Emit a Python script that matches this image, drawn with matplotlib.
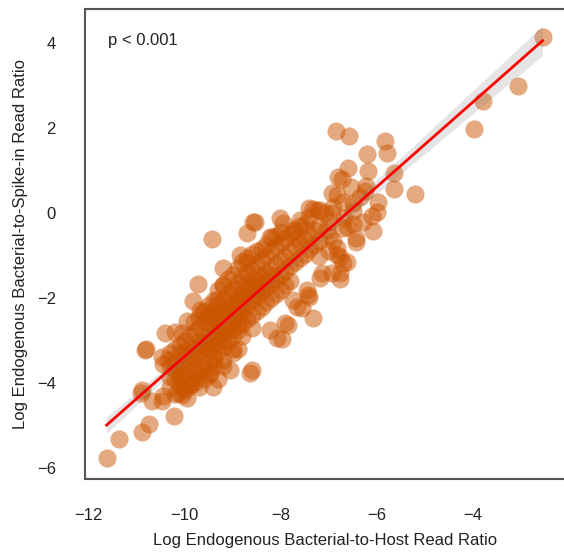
import matplotlib.pyplot as plt
import numpy as np

# log read ratios per sample: x = bacterial-to-host, y = bacterial-to-spike-in
host_outer = [-2.54, -3.06, -3.79, -3.96, -6.85, -6.58, -5.83, -5.79, -6.21, -6.60,
              -6.19, -6.81, -6.73, -5.63, -5.63, -5.19, -6.54, -6.23, -6.92, -6.83,
              -6.25, -5.98, -6.00, -6.10, -6.35, -6.50, -7.33, -7.19, -6.92, -6.62,
              -6.29, -6.08, -6.42, -6.67, -8.02, -7.96, -8.54, -8.71, -9.44, -8.23,
              -7.75, -7.60, -7.40, -7.67, -7.04, -6.83, -7.08, -9.73, -9.83, -9.63,
              -9.96, -10.42, -10.21, -10.81, -10.48, -10.35, -7.33, -7.98, -7.92, -6.77,
              -6.71, -6.83, -6.42, -7.13, -7.46, -7.67, -9.21, -8.85, -8.71, -9.21,
              -9.33, -9.69, -8.60, -10.06, -10.83, -8.65, -9.42, -9.90, -10.15, -10.90,
              -10.46, -8.08, -8.23, -7.85, -7.56, -7.44, -6.77, -10.92, -10.69, -10.48,
              -10.23, -10.75, -10.90, -11.38, -11.63, -10.06, -9.96, -9.75, -10.10, -9.06,
              -9.48, -10.46, -7.40, -7.25, -8.58, -8.19, -6.77, -6.62, -6.94, -7.19,
              -7.40, -7.75, -9.60, -9.40, -9.20, -9.00, -9.30, -8.90, -8.80, -8.60,
              -9.70, -10.00]
spike_outer = [4.14, 3.00, 2.64, 1.98, 1.93, 1.82, 1.70, 1.42, 1.39, 1.07,
               0.98, 0.85, 0.80, 0.95, 0.57, 0.46, 0.62, 0.64, 0.48, 0.43,
               0.53, 0.26, 0.03, -0.06, 0.39, 0.24, 0.10, 0.08, 0.01, -0.32,
               -0.20, -0.42, -0.58, -0.11, -0.11, -0.23, -0.20, -0.47, -0.61, -0.56,
               -0.40, -0.16, -0.09, -0.58, -0.40, -0.81, 0.01, -1.66, -2.06, -2.34,
               -2.53, -2.81, -2.79, -3.19, -3.38, -3.45, -2.46, -2.95, -2.58, -1.40,
               -1.17, -0.98, -0.68, -1.40, -1.81, -2.20, -1.29, -0.98, -1.15, -1.68,
               -2.04, -2.27, -3.68, -2.81, -3.22, -3.76, -4.08, -4.04, -4.22, -4.15,
               -4.31, -2.93, -2.74, -2.63, -2.22, -1.92, -1.56, -4.22, -4.42, -4.42,
               -4.76, -4.95, -5.14, -5.31, -5.75, -4.27, -4.34, -3.76, -3.85, -3.68,
               -3.76, -3.54, 0.12, 0.08, -0.20, -0.56, -1.03, -1.15, -1.40, -1.52,
               -1.97, -2.04, -3.90, -3.50, -3.60, -3.30, -3.90, -3.20, -2.90, -2.70,
               -4.10, -4.10]

host_core = ([-10.3] * 4 + [-10.2] * 5 + [-10.1] * 5 + [-10.0] * 6 + [-9.9] * 6
             + [-9.8] * 6 + [-9.7] * 7 + [-9.6] * 7 + [-9.5] * 8 + [-9.4] * 8
             + [-9.3] * 8 + [-9.2] * 9 + [-9.1] * 8 + [-9.0] * 9 + [-8.9] * 8
             + [-8.8] * 8 + [-8.7] * 7 + [-8.6] * 7 + [-8.5] * 7 + [-8.4] * 6
             + [-8.3] * 6 + [-8.2] * 5 + [-8.1] * 5 + [-8.0] * 5 + [-7.9] * 4
             + [-7.8] * 4 + [-7.7] * 3 + [-7.6] * 3 + [-7.5] * 3 + [-7.4] * 2
             + [-7.3] * 2 + [-7.2] * 3 + [-7.0] * 3 + [-6.9] * 2 + [-6.7] * 2
             + [-6.5] * 2)
spike_core = [-4.1, -3.6, -3.3, -3.85,
              -3.5, -3.9, -4.25, -3.2, -3.7,
              -3.6, -3.1, -4.05, -3.8, -3.3,
              -3.4, -3.8, -3.0, -4.15, -3.6, -3.25,
              -3.5, -2.9, -3.9, -3.3, -4.05, -3.15,
              -3.2, -3.7, -2.8, -3.4, -4.0, -2.55,
              -3.0, -3.6, -2.7, -3.3, -3.85, -2.45, -3.15,
              -2.9, -3.4, -2.55, -3.2, -3.7, -2.3, -3.05,
              -2.8, -3.2, -2.4, -3.5, -3.0, -2.15, -3.8, -2.6,
              -2.7, -3.1, -2.3, -3.4, -2.9, -2.05, -3.6, -2.5,
              -2.55, -2.9, -2.15, -3.25, -2.75, -1.8, -2.35, -3.1,
              -2.45, -2.8, -2.05, -3.15, -2.65, -1.7, -2.25, -3.0, -3.45,
              -2.3, -2.65, -1.9, -3.0, -2.5, -1.55, -2.15, -2.8,
              -2.2, -2.55, -1.8, -2.9, -2.4, -1.45, -2.05, -2.7, -3.2,
              -2.05, -2.4, -1.65, -2.75, -2.25, -1.3, -1.9, -2.6,
              -1.9, -2.25, -1.5, -2.6, -2.1, -1.15, -1.75, -2.4,
              -1.8, -2.15, -1.4, -2.5, -2.0, -1.05, -1.65,
              -1.7, -2.05, -1.3, -2.4, -1.9, -0.95, -1.55,
              -1.6, -1.95, -1.2, -2.3, -1.8, -0.9, -1.45,
              -1.5, -1.85, -1.1, -2.2, -1.7, -0.85,
              -1.4, -1.75, -1.0, -2.1, -1.6, -0.75,
              -1.3, -1.65, -0.9, -2.0, -1.45,
              -1.2, -1.55, -0.8, -1.9, -0.55,
              -1.1, -1.45, -0.7, -1.8, -0.45,
              -1.0, -1.35, -0.6, -1.7,
              -0.9, -1.25, -0.5, -1.6,
              -0.8, -1.15, -0.4,
              -0.7, -1.05, -0.3,
              -0.6, -0.95, -0.25,
              -0.5, -0.85,
              -0.4, -0.75,
              -0.3, -0.65, -1.0,
              -0.2, -0.55, -0.9,
              -0.65, 0.15,
              -0.35, 0.25,
              -0.25, 0.05]

x = np.array(host_outer + host_core)
y = np.array(spike_outer + spike_core)

plt.rcParams['font.family'] = ['Liberation Sans', 'DejaVu Sans']
plt.rcParams['font.size'] = 12

fig = plt.figure(figsize=(5.64, 5.53), dpi=100)
ax = fig.add_axes([0.1507, 0.1333, 0.853, 0.8504])

ax.scatter(x, y, s=170, color='#cc5500', alpha=0.5, linewidths=0, zorder=2)

# least squares fit with 95% confidence band
n = len(x)
slope, icpt = np.polyfit(x, y, 1)
xs = np.linspace(x.min(), x.max(), 100)
fit = icpt + slope * xs
resid = y - (icpt + slope * x)
s = np.sqrt(np.sum(resid**2) / (n - 2))
se = s * np.sqrt(1 / n + (xs - x.mean())**2 / np.sum((x - x.mean())**2))
ax.fill_between(xs, fit - 1.97 * se, fit + 1.97 * se, color='gray', alpha=0.2,
                linewidth=0, zorder=3)
ax.plot(xs, fit, color='red', linewidth=2, zorder=4)

ax.text(0.048, 0.932, 'p < 0.001', transform=ax.transAxes, fontsize=12,
        ha='left', va='center', color='#222222')

ax.set_xlim(-12.08, -2.05)
ax.set_ylim(-6.26, 4.80)
ax.set_xticks([-12, -10, -8, -6, -4])
ax.set_yticks([-6, -4, -2, 0, 2, 4])
ax.tick_params(length=0, pad=21, labelsize=12, colors='#222222')
ax.set_xlabel('Log Endogenous Bacterial-to-Host Read Ratio', fontsize=12,
              color='#222222', labelpad=7)
ax.set_ylabel('Log Endogenous Bacterial-to-Spike-in Read Ratio', fontsize=12,
              color='#222222', labelpad=6)
for sp in ax.spines.values():
    sp.set_color('#555555')
    sp.set_linewidth(1.5)

plt.savefig('out.png', dpi=100)
